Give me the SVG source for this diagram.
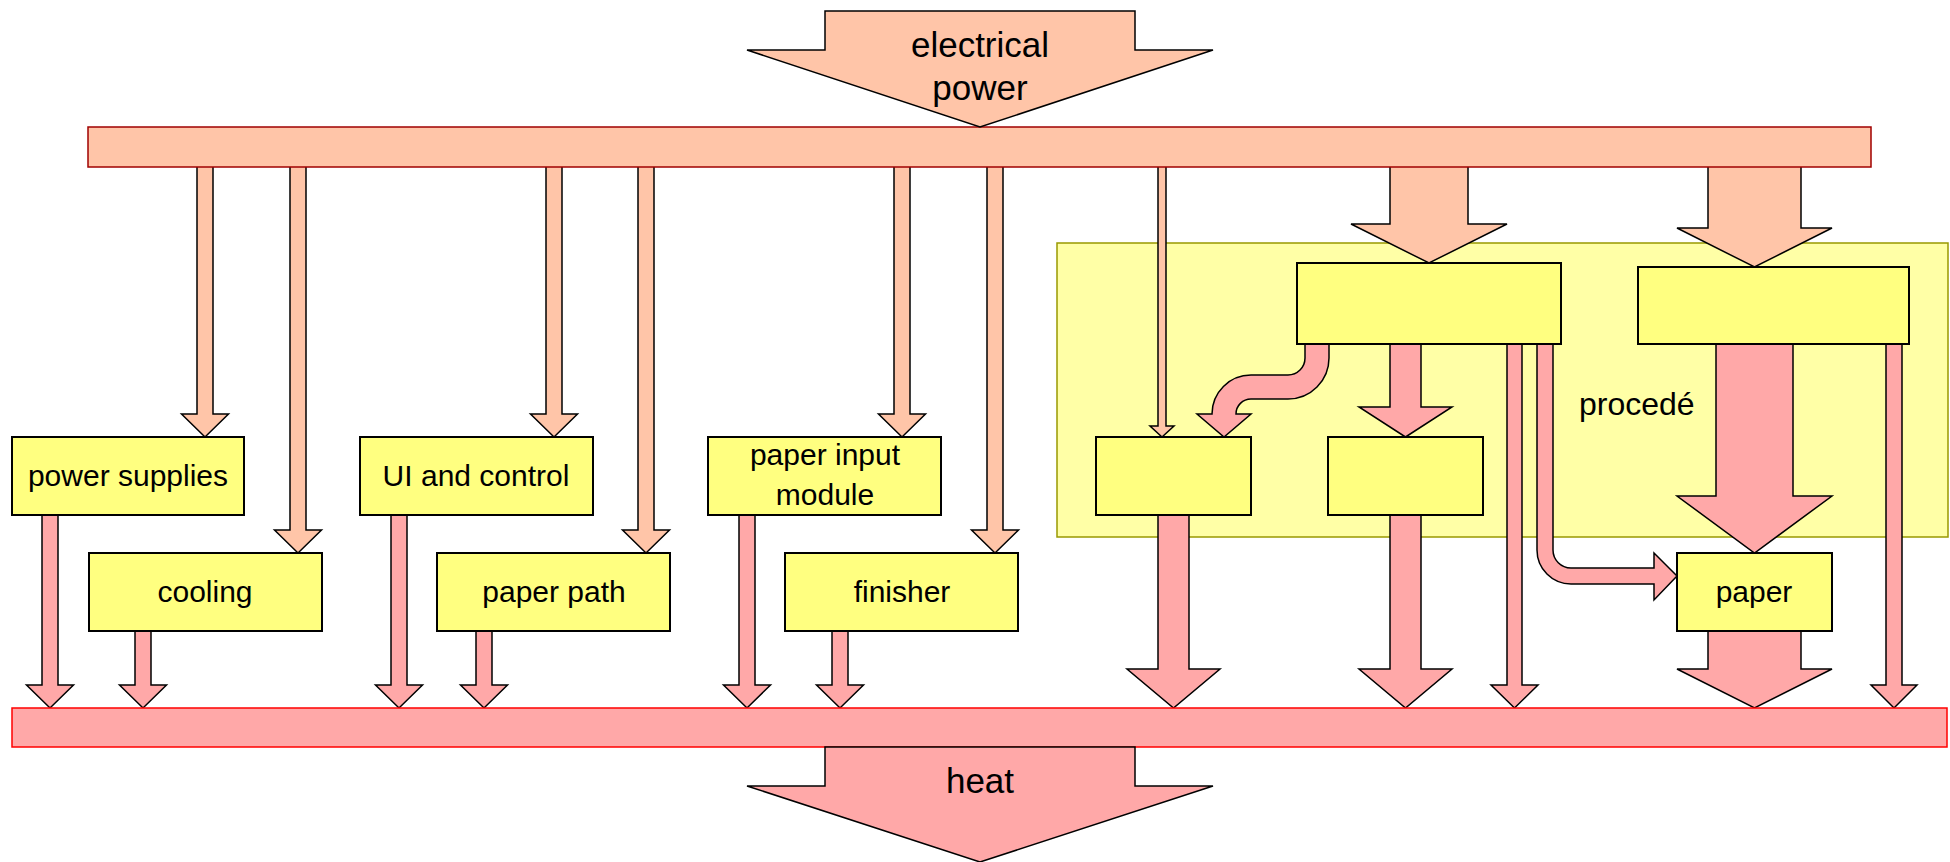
<svg xmlns="http://www.w3.org/2000/svg" width="1950" height="862" viewBox="0 0 1950 862">
<defs>
<style>
.peach{fill:#FFC5A8;stroke:#000;stroke-width:1.5;stroke-linejoin:miter}
.pink{fill:#FFA8A8;stroke:#000;stroke-width:1.5;stroke-linejoin:miter}
.box{fill:#FFFF80;stroke:#000;stroke-width:2}
.lbl{font-family:"Liberation Sans",Arial,sans-serif;font-size:30px;fill:#000;text-anchor:middle}
.big{font-family:"Liberation Sans",Arial,sans-serif;font-size:35px;fill:#000;text-anchor:middle}
.note{font-family:"Liberation Sans",Arial,sans-serif;font-size:32px;fill:#000}
</style>
</defs>
<rect width="1950" height="862" fill="#fff"/>
<g id="procede">
<rect x="1057" y="243" width="891" height="294" fill="#FFFFA6" stroke="#999900" stroke-width="1.5"/>
<text class="note" x="1579" y="415">procedé</text>
</g>
<g id="connectors">
<path class="peach" d="M197,166H213V414H228.5L205,437L181.5,414H197Z"/>
<path class="peach" d="M290,166H306V530H321.5L298,553L274.5,530H290Z"/>
<path class="peach" d="M546,166H562V414H577.5L554,437L530.5,414H546Z"/>
<path class="peach" d="M638,166H654V530H669.5L646,553L622.5,530H638Z"/>
<path class="peach" d="M894,166H910V414H925.5L902,437L878.5,414H894Z"/>
<path class="peach" d="M987,166H1003V530H1018.5L995,553L971.5,530H987Z"/>
<path class="peach" d="M1158,166H1166V426H1174L1162,437L1150,426H1158Z"/>
<path class="peach" d="M1390,166H1468V224H1507L1429,263L1351,224H1390Z"/>
<path class="peach" d="M1708,166H1801V228H1832L1754.5,267L1677,228H1708Z"/>
<path class="pink" d="M42,515H58V685H73.5L50,708L26.5,685H42Z"/>
<path class="pink" d="M135,631H151V685H166.5L143,708L119.5,685H135Z"/>
<path class="pink" d="M391,515H407V685H422.5L399,708L375.5,685H391Z"/>
<path class="pink" d="M476,631H492V685H507.5L484,708L460.5,685H476Z"/>
<path class="pink" d="M739,515H755V685H770.5L747,708L723.5,685H739Z"/>
<path class="pink" d="M832,631H848V685H863.5L840,708L816.5,685H832Z"/>
<path class="pink" d="M1158,515H1189V669H1220L1173.5,708L1127,669H1158Z"/>
<path class="pink" d="M1390,515H1421V669H1452L1405.5,708L1359,669H1390Z"/>
<path class="pink" d="M1507,344H1522V685H1538L1514.5,708L1491,685H1507Z"/>
<path class="pink" d="M1886,344H1902V685H1917L1894,708L1871,685H1886Z"/>
<path class="pink" d="M1708,631H1801V669H1832L1754.5,708L1677,669H1708Z"/>
<path class="pink" d="M1390,344H1421V407H1452L1405.5,437L1359,407H1390Z"/>
<path class="pink" d="M1716,344H1793V496H1832L1754.5,553L1677,496H1716Z"/>
<path class="pink" d="M1305,344H1329V358A41,41 0 0 1 1288,399H1251A15,15 0 0 0 1236,414H1251L1224,437L1197,414H1212A39,39 0 0 1 1251,375H1288A17,17 0 0 0 1305,358Z"/>
<path class="pink" d="M1537,344H1553V550A18,18 0 0 0 1571,568H1654V553L1677,576L1654,600V584H1571A34,34 0 0 1 1537,550Z"/>
</g>
<g id="power-bus"><rect x="88" y="127" width="1783" height="40" fill="#FFC5A8" stroke="#A00000" stroke-width="1.5"/></g>
<g id="heat-bus"><rect x="12" y="708" width="1935" height="39" fill="#FFA8A8" stroke="#FF0000" stroke-width="1.5"/></g>
<g id="power-supplies"><rect class="box" x="12" y="437" width="232" height="78"/><text class="lbl" x="128" y="486">power supplies</text></g>
<g id="cooling"><rect class="box" x="89" y="553" width="233" height="78"/><text class="lbl" x="205" y="602">cooling</text></g>
<g id="ui-control"><rect class="box" x="360" y="437" width="233" height="78"/><text class="lbl" x="476" y="486">UI and control</text></g>
<g id="paper-path"><rect class="box" x="437" y="553" width="233" height="78"/><text class="lbl" x="554" y="602">paper path</text></g>
<g id="paper-input"><rect class="box" x="708" y="437" width="233" height="78"/><text class="lbl" x="825" y="465">paper input</text><text class="lbl" x="825" y="505">module</text></g>
<g id="finisher"><rect class="box" x="785" y="553" width="233" height="78"/><text class="lbl" x="902" y="602">finisher</text></g>
<g id="box-a"><rect class="box" x="1297" y="263" width="264" height="81"/></g>
<g id="box-d"><rect class="box" x="1638" y="267" width="271" height="77"/></g>
<g id="box-b"><rect class="box" x="1096" y="437" width="155" height="78"/></g>
<g id="box-c"><rect class="box" x="1328" y="437" width="155" height="78"/></g>
<g id="paper"><rect class="box" x="1677" y="553" width="155" height="78"/><text class="lbl" x="1754" y="602">paper</text></g>
<g id="electrical-power"><path class="peach" d="M825,11H1135V50H1213L980,127L747,50H825Z"/><text class="big" x="980" y="57">electrical</text><text class="big" x="980" y="100">power</text></g>
<g id="heat"><path class="pink" d="M825,747H1135V786H1213L980,862L747,786H825Z"/><text class="big" x="980" y="793">heat</text></g>
</svg>
